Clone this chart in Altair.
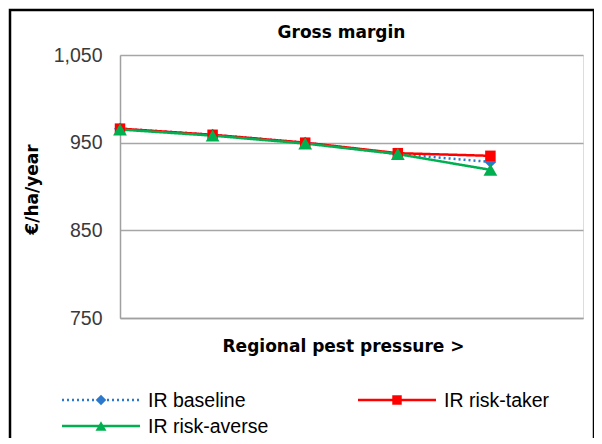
import altair as alt
import pandas as pd

# ---- data ----
series_names = ["IR baseline", "IR risk-taker", "IR risk-averse"]
pressure_steps = [1, 2, 3, 4, 5]
baseline = [966, 959, 950, 937, 928]
risk_taker = [966, 959, 950, 938, 935]
risk_averse = [965, 958, 949, 937, 919]
y_ticks = [750, 850, 950, 1050]

colors = ["#2B78CC", "#FF0000", "#00B050"]
dashes = [[2, 3], [1, 0], [1, 0]]
shapes = ["diamond", "square", "triangle-up"]
marker_sizes = [140, 110, 190]
legend_marker_sizes = [110, 90, 120]

rows = []
for name, vals in zip(series_names, [baseline, risk_taker, risk_averse]):
    for step, v in zip(pressure_steps, vals):
        rows.append({"step": step, "series": name, "value": v})
df = pd.DataFrame(rows)
legend_df = pd.DataFrame({"series": series_names})

W, H = 463, 263

x_enc = alt.X(
    "step:Q",
    scale=alt.Scale(domain=[1, 6], nice=False, zero=False),
    axis=alt.Axis(
        title="Regional pest pressure  >",
        labels=False,
        ticks=False,
        grid=False,
        domainColor="#A0A0A0",
        domainWidth=1.5,
        titleFont="DejaVu Sans",
        titleFontSize=17,
        titleFontWeight="bold",
        titleColor="#000000",
        titlePadding=20,
        titleX=223,
    ),
)
y_enc = alt.Y(
    "value:Q",
    scale=alt.Scale(domain=[750, 1050], nice=False, zero=False),
    axis=alt.Axis(
        title="€/ha/year",
        values=y_ticks,
        format=",d",
        ticks=False,
        grid=True,
        gridColor="#A6A6A6",
        gridWidth=1.5,
        domainColor="#A0A0A0",
        domainWidth=1.5,
        labelFont="Liberation Sans",
        labelFontSize=19.5,
        labelColor="#3A3A3A",
        labelPadding=18,
        titleFont="DejaVu Sans",
        titleFontSize=17,
        titleFontWeight="bold",
        titleColor="#000000",
        titleAngle=-90,
        titleX=-88,
        titleY=134,
        titleAlign="center",
        titleBaseline="middle",
    ),
)

color_enc = alt.Color(
    "series:N", scale=alt.Scale(domain=series_names, range=colors), legend=None
)

base = alt.Chart(df)

layers = []
# lines, in series order
for name, dash in zip(series_names, dashes):
    layers.append(
        base.transform_filter(alt.datum.series == name)
        .mark_line(strokeWidth=2.5, strokeDash=dash)
        .encode(x=x_enc, y=y_enc, color=color_enc, order=alt.Order("step:Q"))
    )
# markers
for name, shp, sz in zip(series_names, shapes, marker_sizes):
    layers.append(
        base.transform_filter(alt.datum.series == name)
        .mark_point(filled=True, opacity=1, size=sz, shape=shp)
        .encode(x="step:Q", y="value:Q", color=color_enc)
    )

# legend (guide): two columns, line + marker + label per series
leg_col = [0, 1, 0]
leg_row = [0, 0, 1]
leg_x0, leg_dx = -58, 296      # relative to plot origin
leg_y0, leg_dy = 345, 26
sym_len, lab_gap = 78, 8
leg_layers = []
for i, name in enumerate(series_names):
    x0 = leg_x0 + leg_col[i] * leg_dx
    yc = leg_y0 + leg_row[i] * leg_dy
    src = alt.Chart(legend_df).transform_filter(alt.datum.series == name)
    leg_layers.append(
        src.mark_rule(strokeWidth=2.5, strokeDash=dashes[i], color=colors[i], clip=False).encode(
            x=alt.value(x0), x2=alt.value(x0 + sym_len), y=alt.value(yc)
        )
    )
    leg_layers.append(
        src.mark_point(filled=True, opacity=1, shape=shapes[i], size=legend_marker_sizes[i],
                       color=colors[i], clip=False).encode(
            x=alt.value(x0 + sym_len / 2), y=alt.value(yc)
        )
    )
    leg_layers.append(
        src.mark_text(align="left", baseline="alphabetic", font="Liberation Sans",
                      fontSize=19.5, color="#000000", clip=False).encode(
            x=alt.value(x0 + sym_len + lab_gap), y=alt.value(yc + 6.5), text="series:N"
        )
    )

frame = alt.Chart(pd.DataFrame({"a": [0]})).mark_rect(
    filled=False, stroke="#000000", strokeWidth=2.5, clip=False
).encode(
    x=alt.value(-110), x2=alt.value(474), y=alt.value(-45), y2=alt.value(440)
)

chart = (
    alt.layer(frame, *layers, *leg_layers)
    .properties(
        width=W,
        height=H,
        title=alt.TitleParams(
            "Gross margin",
            font="DejaVu Sans",
            fontSize=17,
            fontWeight="bold",
            color="#000000",
            anchor="middle",
            frame="group",
            dx=-10,
            offset=-33,
        ),
        padding={"left": 112, "top": 47, "right": 11, "bottom": 120},
        autosize=alt.AutoSizeParams(type="none"),
    )
    .configure_view(stroke=None)
    .configure(background="white")
)

chart.save("out.html", embed_options={"renderer": "svg", "actions": False})
